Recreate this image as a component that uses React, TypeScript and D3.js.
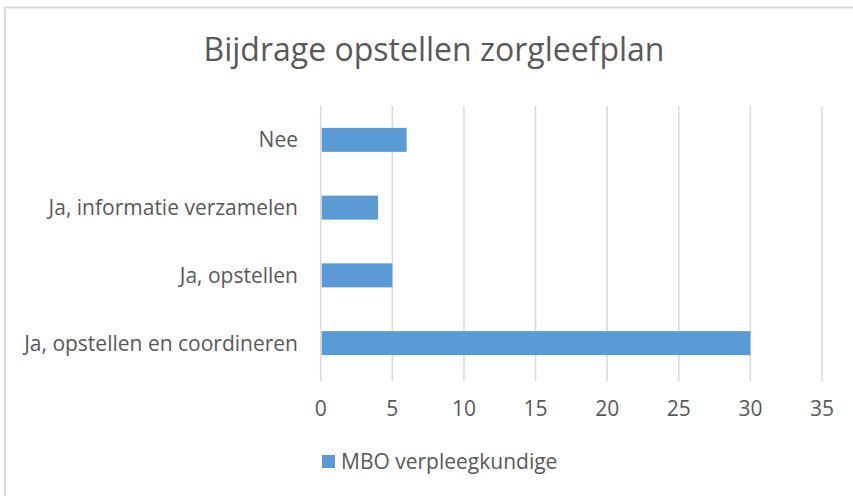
import { useEffect, useRef } from 'react';
import * as d3 from 'd3';

const TITLE = 'Bijdrage opstellen zorgleefplan';
const CATEGORIES = ['Nee', 'Ja, informatie verzamelen', 'Ja, opstellen', 'Ja, opstellen en coordineren'];
const VALUES = [6, 4, 5, 30];
const TICKS = [0, 5, 10, 15, 20, 25, 30, 35];
const SERIES = 'MBO verpleegkundige';

const WIDTH = 853;
const HEIGHT = 496;
const PLOT = { left: 320.7, right: 822, top: 106, bottom: 377 };

const BAR_FILL = '#5B9BD5';
const GRID = '#d9d9d9';
const TEXT = '#595959';
const FONT_FAMILY = '"Open Sans", "Noto Sans", Arial, sans-serif';

export default function App() {
  const svgRef = useRef<SVGSVGElement>(null);

  useEffect(() => {
    const svg = d3.select(svgRef.current);
    svg.selectAll('*').remove();
    svg.style('font-family', FONT_FAMILY);

    // chart border, runs off the right and bottom edge like the reference
    svg
      .append('rect')
      .attr('x', 5)
      .attr('y', 7.5)
      .attr('width', WIDTH + 20)
      .attr('height', HEIGHT + 20)
      .attr('fill', '#fff')
      .attr('stroke', GRID)
      .attr('stroke-width', 2);

    // Scales ---------------------------------------------------------------
    const x = d3.scaleLinear().domain([0, 35]).range([PLOT.left, PLOT.right]);

    const gap = 1 - 24 / 67.7;
    const y = d3
      .scaleBand<string>()
      .domain(CATEGORIES)
      .range([PLOT.top, PLOT.bottom])
      .paddingInner(gap)
      .paddingOuter(gap / 2);

    // Gridlines ------------------------------------------------------------
    svg
      .append('g')
      .selectAll('line')
      .data(TICKS)
      .join('line')
      .attr('x1', (d) => x(d))
      .attr('x2', (d) => x(d))
      .attr('y1', PLOT.top)
      .attr('y2', PLOT.bottom + 4)
      .attr('stroke', GRID)
      .attr('stroke-width', 1.5);

    // Bars -----------------------------------------------------------------
    svg
      .append('g')
      .selectAll('rect')
      .data(VALUES)
      .join('rect')
      .attr('x', x(0) + 1)
      .attr('y', (_, i) => y(CATEGORIES[i])!)
      .attr('width', (d) => x(d) - x(0) - 1)
      .attr('height', y.bandwidth())
      .attr('fill', BAR_FILL);

    // X tick labels ----------------------------------------------------------
    svg
      .append('g')
      .selectAll('text')
      .data(TICKS)
      .join('text')
      .attr('x', (d) => x(d))
      .attr('y', PLOT.bottom + 39)
      .attr('text-anchor', 'middle')
      .style('font-size', '21px')
      .style('fill', TEXT)
      .text((d) => d);

    // Category labels ------------------------------------------------------
    svg
      .append('g')
      .selectAll('text')
      .data(CATEGORIES)
      .join('text')
      .attr('x', 298)
      .attr('y', (d) => y(d)! + y.bandwidth() / 2 + 7.5)
      .attr('text-anchor', 'end')
      .style('font-size', '21px')
      .style('fill', TEXT)
      .text((d) => d);

    // Title ----------------------------------------------------------------
    svg
      .append('text')
      .attr('x', 434)
      .attr('y', 61)
      .attr('text-anchor', 'middle')
      .style('font-size', '32px')
      .style('fill', TEXT)
      .text(TITLE);

    // Legend ---------------------------------------------------------------
    const legend = svg.append('g').attr('transform', 'translate(322,455)');
    legend.append('rect').attr('width', 13).attr('height', 13).attr('fill', BAR_FILL);
    legend
      .append('text')
      .attr('x', 19)
      .attr('y', 14)
      .style('font-size', '21px')
      .style('fill', TEXT)
      .text(SERIES);
  }, []);

  return (
    <div style={{ position: 'fixed', left: 0, top: 0 }}>
      <svg ref={svgRef} width={WIDTH} height={HEIGHT} style={{ display: 'block' }} />
    </div>
  );
}
